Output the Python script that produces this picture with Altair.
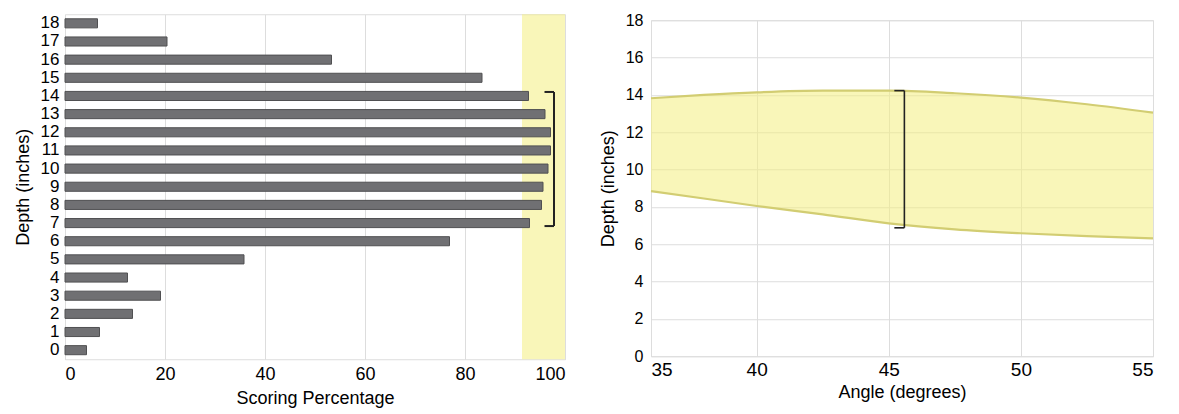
import altair as alt
import pandas as pd

# ---------- data: left panel ----------
depths = list(range(19))
scoring_pct = [4.3, 6.9, 13.5, 19.1, 12.5, 35.8, 76.9, 92.9, 95.3, 95.6,
               96.6, 97.1, 97.1, 96.0, 92.7, 83.4, 53.3, 20.4, 6.5]
highlight_start = 91.4
highlight_end = 100
bracket_left_top = 14
bracket_left_bottom = 7
bracket_left_x = 97.8
bracket_left_tick = 95.9

# ---------- data: right panel ----------
angles = [36, 38, 40, 42.5, 45, 47.5, 50, 52.5, 55]
upper_depth = [13.82, 14.0, 14.14, 14.23, 14.23, 14.09, 13.86, 13.5, 13.05]
lower_depth = [8.85, 8.45, 8.05, 7.6, 7.12, 6.8, 6.59, 6.43, 6.32]
bracket_right_x = 45.59
bracket_right_tick = 45.21
bracket_right_top = 14.23
bracket_right_bottom = 6.88

x_ticks_left = [0, 20, 40, 60, 80, 100]
x_ticks_right = [36, 40, 45, 50, 55]
y_ticks_right = [0, 2, 4, 6, 8, 10, 12, 14, 16, 18]

FONT = "Liberation Sans"
TXT = "#333333"
YELLOW_FILL = "#f4ee80"
YELLOW_LINE = "#d2cd72"
BAR = "#707073"
BAR_EDGE = "#505052"
INK = "#222222"

depth_domain = list(reversed(depths))

bars_df = pd.DataFrame({"depth": depths, "pct": scoring_pct})
band_df = pd.DataFrame({"x0": [highlight_start], "x1": [highlight_end]})
brk_l = pd.DataFrame({"x": [bracket_left_x], "xt": [bracket_left_tick],
                      "top": [bracket_left_top], "bot": [bracket_left_bottom]})

xs_left = alt.Scale(domain=[0, 100], nice=False)
ys_left = alt.Scale(domain=depth_domain, paddingInner=0.5, paddingOuter=0.25)

x_axis_l = alt.Axis(title="Scoring Percentage", values=x_ticks_left,
                    grid=True, ticks=False, labelPadding=6, domain=False,
                    labelFontSize=18, titleFontSize=18, titlePadding=6,
                    titleFontWeight="normal", labelOverlap=False)
y_axis_l = alt.Axis(title="Depth (inches)", grid=False, ticks=False,
                    labelPadding=6, domain=False, labelFontSize=17,
                    titleFontSize=18, titlePadding=8, labelAngle=0,
                    titleFontWeight="normal", labelOverlap=False)

band = alt.Chart(band_df).mark_rect(color=YELLOW_FILL, opacity=0.55).encode(
    x=alt.X("x0:Q", scale=xs_left, axis=x_axis_l),
    x2="x1:Q",
)

bars = alt.Chart(bars_df).mark_bar(color=BAR, stroke=BAR_EDGE, strokeWidth=1).encode(
    x=alt.X("pct:Q", scale=xs_left, axis=x_axis_l),
    y=alt.Y("depth:O", scale=ys_left, axis=y_axis_l),
)

brk_v = alt.Chart(brk_l).mark_rule(color=INK, strokeWidth=2, yOffset=-4, y2Offset=3).encode(
    x=alt.X("x:Q", scale=xs_left, axis=x_axis_l),
    y=alt.Y("top:O", scale=ys_left, axis=y_axis_l),
    y2="bot:O",
)
brk_t = alt.Chart(brk_l).mark_rule(color=INK, strokeWidth=2, yOffset=-4).encode(
    x=alt.X("xt:Q", scale=xs_left, axis=x_axis_l), x2="x:Q",
    y=alt.Y("top:O", scale=ys_left, axis=y_axis_l),
)
brk_b = alt.Chart(brk_l).mark_rule(color=INK, strokeWidth=2, yOffset=3).encode(
    x=alt.X("xt:Q", scale=xs_left, axis=x_axis_l), x2="x:Q",
    y=alt.Y("bot:O", scale=ys_left, axis=y_axis_l),
)

left = alt.layer(band, bars, brk_v, brk_t, brk_b).properties(width=500, height=345)

# ---------- right panel ----------
curve_df = pd.DataFrame({"angle": angles, "upper": upper_depth, "lower": lower_depth})
brk_r = pd.DataFrame({"x": [bracket_right_x], "xt": [bracket_right_tick],
                      "top": [bracket_right_top], "bot": [bracket_right_bottom]})

xs_right = alt.Scale(domain=[36, 55], nice=False, zero=False)
ys_right = alt.Scale(domain=[0, 18], nice=False)

x_axis_r = alt.Axis(title="Angle (degrees)", values=x_ticks_right, grid=True, ticks=False,
                    labelPadding=4, domain=False, labelFontSize=19, titleFontSize=18,
                    titlePadding=4, titleFontWeight="normal", labelOverlap=False,
                    labelExpr="datum.value == 36 ? '35' : datum.label")
y_axis_r = alt.Axis(title="Depth (inches)", values=y_ticks_right, tickCount=10,
                    grid=True, ticks=False,
                    labelPadding=8, domain=False, labelFontSize=16, titleFontSize=18,
                    titlePadding=8, titleFontWeight="normal", labelOverlap=False)

area = alt.Chart(curve_df).mark_area(color=YELLOW_FILL, opacity=0.55, interpolate="monotone").encode(
    x=alt.X("angle:Q", scale=xs_right, axis=x_axis_r),
    y=alt.Y("lower:Q", scale=ys_right, axis=y_axis_r),
    y2="upper:Q",
)
line_up = alt.Chart(curve_df).mark_line(color=YELLOW_LINE, strokeWidth=2.2, interpolate="monotone").encode(
    x=alt.X("angle:Q", scale=xs_right, axis=x_axis_r),
    y=alt.Y("upper:Q", scale=ys_right, axis=y_axis_r),
)
line_lo = alt.Chart(curve_df).mark_line(color=YELLOW_LINE, strokeWidth=2.2, interpolate="monotone").encode(
    x=alt.X("angle:Q", scale=xs_right, axis=x_axis_r),
    y=alt.Y("lower:Q", scale=ys_right, axis=y_axis_r),
)
rb_v = alt.Chart(brk_r).mark_rule(color=INK, strokeWidth=1.6).encode(
    x=alt.X("x:Q", scale=xs_right, axis=x_axis_r),
    y=alt.Y("top:Q", scale=ys_right, axis=y_axis_r), y2="bot:Q")
rb_t = alt.Chart(brk_r).mark_rule(color=INK, strokeWidth=1.6).encode(
    x=alt.X("xt:Q", scale=xs_right, axis=x_axis_r), x2="x:Q",
    y=alt.Y("top:Q", scale=ys_right, axis=y_axis_r))
rb_b = alt.Chart(brk_r).mark_rule(color=INK, strokeWidth=1.6).encode(
    x=alt.X("xt:Q", scale=xs_right, axis=x_axis_r), x2="x:Q",
    y=alt.Y("bot:Q", scale=ys_right, axis=y_axis_r))

right = alt.layer(area, line_up, line_lo, rb_v, rb_t, rb_b).properties(width=502, height=336)

chart = alt.hconcat(left, right, spacing=32, center=True).properties(
    padding={"left": 5, "top": 3, "right": 5, "bottom": 5}
).configure_view(
    stroke="#d6d6d6", strokeWidth=2
).configure_axis(
    labelFont=FONT, titleFont=FONT, labelColor=TXT, titleColor=TXT,
    titleFontWeight="normal", gridColor="#d9d9d9", gridWidth=1.5,
).configure(background="white")

chart.save("out.html", embed_options={"renderer": "svg", "actions": False})
